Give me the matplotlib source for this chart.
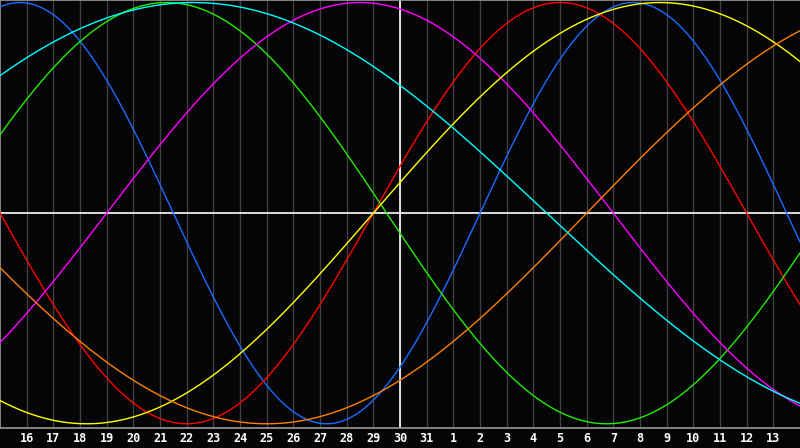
import numpy as np
import matplotlib
matplotlib.use("Agg")
import matplotlib.pyplot as plt

# Biorhythm cycles (period in days) and their colours
cycle_names = ["physical", "emotional", "intellectual", "intuitive", "aesthetic", "awareness", "spiritual"]
cycle_periods = [23, 28, 33, 38, 43, 48, 53]
cycle_colors = ["#1a6cff", "#ff0000", "#22ee00", "#ff00ff", "#ffff00", "#ff7f00", "#00ffff"]

# days lived at the left edge of the chart
days_alive_start = 40922
# day-of-month labels on the gridlines
day_labels = [16, 17, 18, 19, 20, 21, 22, 23, 24, 25, 26, 27, 28, 29, 30, 31,
              1, 2, 3, 4, 5, 6, 7, 8, 9, 10, 11, 12, 13]
today_index = 15  # vertical marker (day 30)
span_days = 30

fig = plt.figure(figsize=(8.0, 4.48), dpi=100)
fig.patch.set_facecolor("#050508")
ax = fig.add_axes([0.0, 20 / 448, 1.0, 428 / 448])
ax.set_facecolor("#050508")

t = np.linspace(0, span_days, 1200)
for name, period, color in zip(cycle_names, cycle_periods, cycle_colors):
    y = np.sin(2 * np.pi * (days_alive_start + t) / period)
    ax.plot(t, y, color=color, lw=1.0, zorder=3, label=name)

for k in range(1, span_days):
    ax.axvline(k, color="#404044", lw=1.0, zorder=1)
ax.axhline(0, color="white", lw=1.2, zorder=2)
ax.axvline(today_index, color="white", lw=1.2, zorder=2)

ax.set_xlim(0, span_days)
ax.set_ylim(-1.02, 1.012)
ax.set_xticks([])
ax.set_yticks([])
for side in ["left", "top", "bottom"]:
    ax.spines[side].set_color("#9a9a9a")
    ax.spines[side].set_linewidth(1.2)
ax.spines["right"].set_visible(False)

for k, lab in enumerate(day_labels, start=1):
    ax.text(k, -0.024, str(lab), transform=ax.get_xaxis_transform(),
            ha="center", va="center", color="white", fontsize=8.5,
            fontweight="bold", family="DejaVu Sans Mono")

fig.savefig("out.png", dpi=100, facecolor=fig.get_facecolor())
